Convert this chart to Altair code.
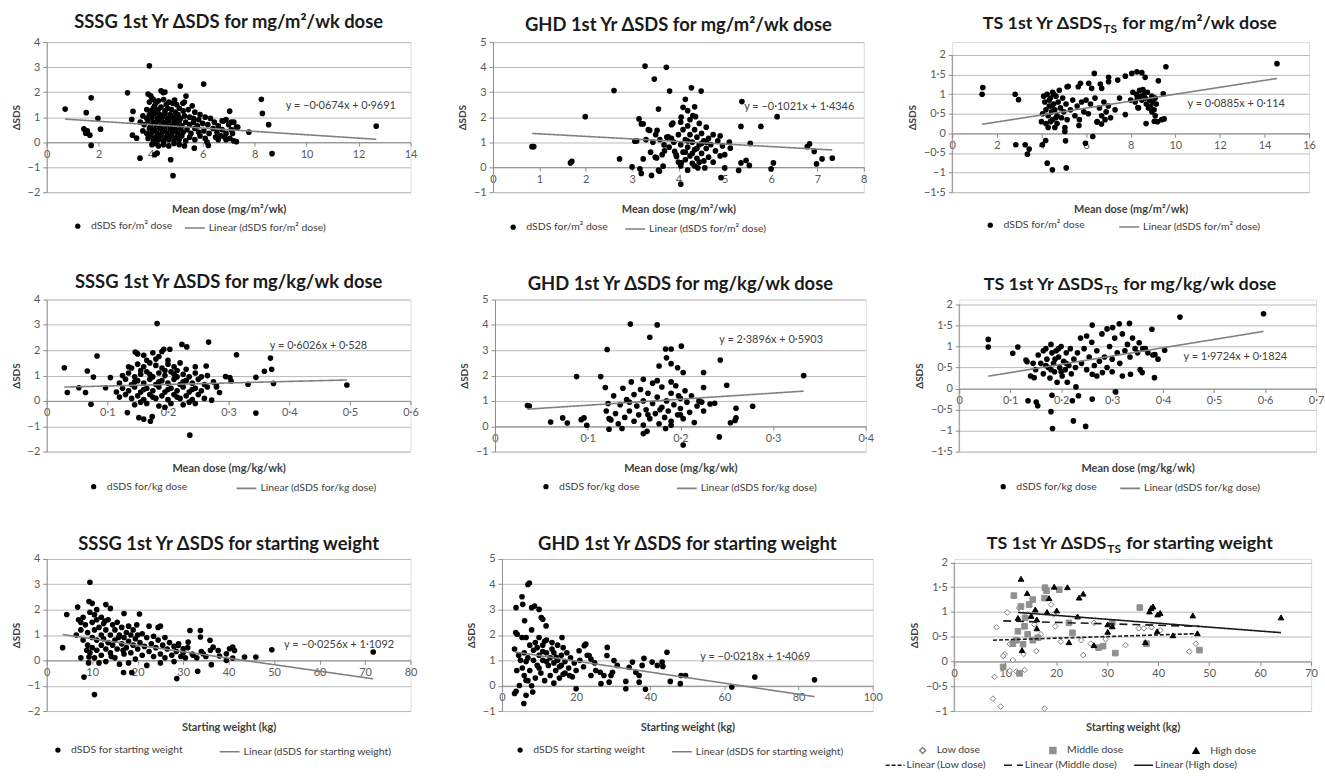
import altair as alt
import pandas as pd

# ---------------------------------------------------------------- data
# (x, y) pairs
sssg_m2 = [
    (0.71, 1.32), (1.52, 1.18), (1.71, 1.77), (1.97, 0.95), (2.07, 0.52), (1.43, 0.53), (1.5, 0.36),
    (1.66, 0.28), (1.71, -0.13), (1.56, 0.45), (3.11, 1.97), (3.32, 1.23), (3.27, 0.91), (3.3, 0.28),
    (3.46, 0.16), (3.59, -0.64), (4.25, -0.44), (4.16, -0.5), (4.77, -0.7), (4.86, -1.34), (3.95, 3.05),
    (5.14, 2.24), (5.36, 1.84), (6.04, 2.32), (7.78, 0.4), (8.26, 1.71), (8.3, 1.15), (8.54, 0.7),
    (8.67, -0.46), (12.68, 0.64), (5.68, -0.24), (6.22, -0.13), (6.17, 0.0), (7.04, 1.24), (5.24, 1.55),
    (4.92, 1.68),
    (3.9, 1.92), (4.0, 1.85), (4.4, 2.05), (4.48, 1.98), (4.55, 2.0), (4.1, 1.7),
    (3.95, 1.6), (4.05, 1.75), (4.2, 1.55), (4.3, 1.65), (4.5, 1.7), (4.7, 1.6), (4.85, 1.55), (5.0, 1.5),
    (5.3, 1.6), (4.15, 1.45), (4.6, 1.5), (5.6, 1.45),
    (3.85, 1.3), (4.0, 1.25), (4.1, 1.35), (4.25, 1.2), (4.4, 1.4), (4.55, 1.25), (4.65, 1.35), (4.8, 1.3),
    (4.95, 1.2), (5.1, 1.35), (5.25, 1.25), (5.45, 1.3), (5.7, 1.2), (5.9, 1.1), (4.3, 1.3),
    (3.7, 1.05), (3.85, 0.95), (3.95, 1.1), (4.05, 1.0), (4.15, 1.15), (4.25, 0.95), (4.35, 1.1), (4.45, 1.0),
    (4.55, 1.15), (4.65, 0.95), (4.75, 1.1), (4.85, 1.0), (4.95, 0.95), (5.05, 1.1), (5.15, 0.95), (5.3, 1.05),
    (5.5, 1.0), (5.65, 0.95), (5.85, 0.9), (6.1, 1.0), (6.3, 0.95),
    (3.6, 0.8), (3.75, 0.7), (3.9, 0.85), (4.0, 0.65), (4.1, 0.8), (4.2, 0.7), (4.3, 0.85), (4.4, 0.65),
    (4.5, 0.8), (4.6, 0.7), (4.7, 0.85), (4.8, 0.65), (4.9, 0.8), (5.0, 0.7), (5.1, 0.85), (5.2, 0.65),
    (5.35, 0.8), (5.5, 0.7), (5.65, 0.8), (5.8, 0.65), (6.0, 0.75), (6.2, 0.7), (6.45, 0.8), (6.6, 0.65),
    (6.8, 0.85), (7.0, 0.7), (7.2, 0.8),
    (3.7, 0.45), (3.85, 0.35), (3.95, 0.55), (4.05, 0.4), (4.15, 0.5), (4.25, 0.35), (4.35, 0.55), (4.45, 0.4),
    (4.55, 0.5), (4.65, 0.35), (4.75, 0.55), (4.85, 0.4), (4.95, 0.5), (5.05, 0.35), (5.15, 0.55), (5.25, 0.4),
    (5.4, 0.5), (5.55, 0.35), (5.7, 0.55), (5.85, 0.4), (6.05, 0.45), (6.25, 0.35), (6.4, 0.55), (6.55, 0.4),
    (6.75, 0.5), (6.9, 0.35), (7.1, 0.5), (7.3, 0.6),
    (3.9, 0.15), (4.0, 0.25), (4.1, 0.05), (4.2, 0.2), (4.3, 0.1), (4.4, 0.25), (4.5, 0.05), (4.6, 0.2),
    (4.7, 0.1), (4.8, 0.25), (4.9, 0.05), (5.0, 0.2), (5.1, 0.1), (5.2, 0.25), (5.35, 0.05), (5.5, 0.2),
    (5.7, 0.1), (5.9, 0.25), (6.1, 0.15), (6.5, 0.2), (6.9, 0.1), (7.05, 0.15), (7.2, 0.05), (7.3, 0.02),
    (6.7, 0.25),
    (4.05, -0.1), (4.3, -0.15), (4.5, -0.1), (4.7, -0.15), (4.9, -0.05), (5.1, -0.1), (5.3, -0.15), (4.2, -0.05),
    (6.6, 0.1), (7.15, 0.35), (6.85, 0.2), (7.35, 0.6), (6.75, 0.85), (7.1, 0.8), (6.9, 0.9),
]

ghd_m2 = [
    (0.84, 0.82), (0.88, 0.82), (1.67, 0.17), (1.7, 0.23), (1.99, 2.02), (2.61, 3.06), (2.73, 0.33),
    (3.0, 0.01), (3.06, 1.04), (3.15, 1.93), (3.2, 1.73), (3.24, 1.73), (3.17, -0.07), (3.2, -0.25),
    (3.28, 4.04), (3.24, 0.33), (3.35, 1.5), (3.38, 1.47), (3.42, -0.33), (3.48, 3.52), (3.51, 1.3),
    (3.54, 1.47), (3.57, 2.32), (3.53, 0.37), (3.57, -0.12), (3.59, -0.16), (3.69, 0.89), (3.74, 3.99),
    (3.81, 3.04), (3.67, 0.04), (3.78, 1.21), (3.85, 1.15), (3.88, 1.76), (3.92, 0.63), (3.96, 0.43),
    (4.05, -0.68), (4.06, 2.0), (4.1, 2.39), (4.15, 2.71), (4.28, 3.17), (4.2, 2.26), (4.31, 2.06),
    (4.35, 2.41), (4.37, 2.02), (4.49, 3.04), (4.06, 0.17), (4.2, -0.12), (4.42, -0.03), (4.57, -0.03),
    (5.0, -0.03), (4.92, -0.42), (5.12, 0.76), (5.37, 2.62), (5.35, 1.63), (5.35, 0.17), (5.3, -0.13),
    (5.46, 0.27), (5.53, 0.07), (5.55, 0.95), (5.78, 1.63), (6.0, -0.07), (6.05, 0.17), (6.13, 2.02),
    (6.78, 0.82), (6.83, 0.93), (6.93, 0.63), (6.98, 0.13), (7.1, 0.33), (7.32, 0.36),
    (3.75, 1.2), (3.8, 0.8), (3.85, 1.7), (3.9, 1.0), (3.95, 0.5), (4.0, 1.3), (4.0, 0.2), (4.05, 1.8),
    (4.05, 0.9), (4.1, 1.5), (4.1, 0.6), (4.15, 1.1), (4.15, 0.3), (4.2, 1.65), (4.2, 0.8), (4.25, 1.3),
    (4.25, 0.45), (4.3, 1.0), (4.3, 0.15), (4.35, 1.5), (4.35, 0.7), (4.4, 1.2), (4.4, 0.35), (4.45, 0.9),
    (4.45, 1.75), (4.5, 0.55), (4.5, 1.35), (4.55, 1.05), (4.55, 0.25), (4.6, 0.75), (4.6, 1.6), (4.65, 1.15),
    (4.65, 0.4), (4.7, 0.9), (4.75, 1.3), (4.75, 0.2), (4.8, 0.65), (4.85, 1.05), (4.9, 0.45), (4.95, 0.85),
    (5.0, 0.5), (4.3, 0.55), (4.2, 1.05), (4.4, 0.75), (4.5, 0.95), (4.15, 0.6), (4.45, 0.2), (4.6, 1.0),
    (4.35, 0.05), (4.25, 1.9), (4.05, 0.05), (3.7, 0.65), (3.6, 1.1), (3.65, 0.5), (5.1, 1.0), (4.9, 1.25),
    (3.45, 1.0), (3.3, 1.1), (3.1, 1.05), (3.4, 0.6), (3.5, 0.4),
]

ts_m2 = [
    (1.37, 1.17), (1.34, 1.0), (2.82, 1.0), (2.97, 0.86), (2.85, -0.29), (3.27, -0.29), (3.37, -0.53),
    (3.45, -0.4), (4.04, -0.29), (4.19, -0.18), (4.26, -0.76), (4.49, -0.93), (5.11, -0.88), (5.08, -0.19),
    (5.97, -0.25), (6.3, -0.08), (6.37, 1.53), (14.56, 1.78), (9.58, 1.7), (9.24, 1.34), (9.46, 1.01),
    (8.05, 1.53), (8.28, 1.57), (8.5, 1.55), (8.65, 1.43), (7.76, 1.46), (7.42, 1.36), (7.01, 1.43),
    (7.01, 1.32), (6.64, 1.26), (6.7, 1.15), (5.75, 1.28), (5.65, 1.19), (6.12, 1.28), (5.15, 1.19),
    (9.06, 0.31), (9.39, 0.35), (9.5, 0.37), (8.69, 0.25), (8.32, 0.66), (7.76, 0.48), (6.69, 0.24),
    (6.49, 0.29), (5.68, 0.2),
    (4.1, 0.95), (4.15, 0.8), (4.2, 0.6), (4.25, 1.0), (4.3, 0.45), (4.35, 0.7), (4.4, 0.9), (4.45, 0.55),
    (4.5, 1.05), (4.5, 0.35), (4.55, 0.75), (4.6, 0.6), (4.65, 0.95), (4.7, 0.45), (4.75, 0.8), (4.8, 1.1),
    (4.85, 0.65), (4.9, 0.4), (4.95, 0.9), (5.0, 0.55), (5.05, 0.15), (5.1, 0.75), (5.15, 0.35), (4.2, 0.25),
    (4.3, 0.15), (4.4, 0.3), (4.6, 0.15), (4.7, 0.25), (4.05, 0.5), (4.55, 1.0), (4.65, 0.4), (4.45, 0.7),
    (4.35, 0.85), (5.05, 0.05), (4.0, 0.3),
    (5.3, 0.6), (5.4, 0.85), (5.5, 0.45), (5.6, 0.7), (5.7, 0.35), (5.8, 0.8), (5.9, 0.55), (6.0, 0.85),
    (6.1, 0.5), (6.2, 0.75), (6.4, 0.9), (6.5, 0.3), (6.6, 0.65), (6.7, 0.45), (6.8, 0.8), (6.9, 0.55),
    (7.0, 0.7), (7.1, 0.4), (7.3, 0.6), (7.5, 0.9), (5.2, 1.2), (6.25, 1.15), (6.85, 0.35),
    (8.1, 1.05), (8.2, 0.8), (8.25, 1.0), (8.3, 0.9), (8.4, 1.1), (8.45, 0.95), (8.5, 0.85), (8.6, 1.0),
    (8.65, 0.9), (8.7, 0.75), (8.75, 1.05), (8.8, 0.65), (8.85, 0.85), (8.9, 0.7), (8.95, 0.55), (9.0, 0.8),
    (9.05, 0.6), (9.1, 0.45), (9.15, 0.75), (9.2, 0.3), (8.55, 1.12), (8.95, 0.95), (9.1, 0.9), (8.35, 0.65),
    (8.0, 0.85),
]

sssg_kg = [
    (0.029, 1.31), (0.034, 0.33), (0.053, 0.52), (0.067, 1.18), (0.064, 0.33), (0.073, -0.13), (0.077, 0.94),
    (0.083, 1.77), (0.097, 0.52), (0.105, 0.92), (0.133, -0.46), (0.135, 1.35), (0.146, 1.93), (0.149, 1.88),
    (0.182, 3.05), (0.223, 2.23), (0.231, 2.13), (0.267, 2.32), (0.263, 1.38), (0.272, 0.03), (0.313, 1.82),
    (0.332, 0.66), (0.345, 0.93), (0.345, -0.48), (0.359, 1.17), (0.369, 1.69), (0.371, 1.25), (0.374, 0.69),
    (0.495, 0.63), (0.236, -1.35), (0.16, -0.72), (0.174, -0.62), (0.171, -0.8), (0.152, -0.66), (0.285, 0.33),
    (0.28, 0.59), (0.295, 0.96), (0.302, 0.92), (0.304, 0.79), (0.203, 2.04), (0.193, 2.04),
    (0.15, 1.85), (0.16, 1.8), (0.175, 1.9), (0.185, 1.75), (0.19, 1.95), (0.18, 1.65), (0.2, 1.6), (0.165, 1.6),
    (0.14, 1.3), (0.15, 1.45), (0.16, 1.35), (0.17, 1.5), (0.18, 1.4), (0.19, 1.3), (0.2, 1.45), (0.21, 1.35),
    (0.22, 1.5), (0.23, 1.25), (0.155, 1.2), (0.195, 1.2), (0.215, 1.2), (0.245, 1.35),
    (0.125, 1.0), (0.135, 1.1), (0.145, 0.95), (0.155, 1.05), (0.165, 1.15), (0.175, 0.95), (0.185, 1.1),
    (0.195, 1.0), (0.205, 1.15), (0.215, 0.95), (0.225, 1.05), (0.235, 0.95), (0.245, 1.1), (0.255, 0.95),
    (0.265, 1.0), (0.17, 1.05), (0.21, 1.05),
    (0.12, 0.7), (0.13, 0.85), (0.14, 0.65), (0.15, 0.8), (0.16, 0.7), (0.17, 0.85), (0.18, 0.65), (0.19, 0.8),
    (0.2, 0.7), (0.21, 0.85), (0.22, 0.65), (0.23, 0.8), (0.24, 0.7), (0.25, 0.85), (0.26, 0.65), (0.275, 0.75),
    (0.145, 0.75), (0.185, 0.75), (0.225, 0.75),
    (0.115, 0.35), (0.125, 0.5), (0.135, 0.4), (0.145, 0.55), (0.155, 0.35), (0.165, 0.5), (0.175, 0.4),
    (0.185, 0.55), (0.195, 0.35), (0.205, 0.5), (0.215, 0.4), (0.225, 0.55), (0.235, 0.35), (0.245, 0.5),
    (0.255, 0.4), (0.265, 0.55), (0.16, 0.45), (0.2, 0.45), (0.24, 0.45), (0.28, 0.55),
    (0.12, 0.15), (0.13, 0.25), (0.14, 0.1), (0.15, 0.2), (0.16, 0.05), (0.17, 0.25), (0.18, 0.1), (0.19, 0.2),
    (0.2, 0.05), (0.21, 0.25), (0.22, 0.1), (0.23, 0.2), (0.24, 0.05), (0.25, 0.25), (0.26, 0.1), (0.175, 0.15),
    (0.215, 0.15),
    (0.145, -0.15), (0.165, -0.1), (0.185, -0.2), (0.205, -0.1), (0.225, -0.15), (0.245, -0.1), (0.195, -0.25),
    (0.155, -0.05), (0.235, -0.05),
]

ghd_kg = [
    (0.035, 0.82), (0.037, 0.8), (0.06, 0.17), (0.073, 0.33), (0.078, 0.13), (0.088, 1.96), (0.093, 0.26),
    (0.096, 0.33), (0.099, 0.04), (0.114, 1.96), (0.121, 3.03), (0.119, 1.53), (0.123, -0.12), (0.123, 0.3),
    (0.146, 4.03), (0.175, 4.0), (0.167, 3.51), (0.184, 3.05), (0.19, 3.05), (0.201, 3.16), (0.185, 2.7),
    (0.19, 2.47), (0.197, 2.31), (0.203, 2.12), (0.177, 2.38), (0.225, 2.12), (0.243, 2.61), (0.25, 1.62),
    (0.242, -0.42), (0.203, -0.74), (0.333, 2.0), (0.278, 0.79), (0.259, 0.23), (0.254, 0.14), (0.26, 0.33),
    (0.26, 0.71), (0.237, 0.91), (0.232, 0.88), (0.225, 1.53), (0.223, 0.95), (0.184, -0.09), (0.19, 0.04),
    (0.16, -0.29), (0.164, -0.2), (0.137, -0.09),
    (0.12, 0.6), (0.122, 0.9), (0.125, 0.25), (0.128, 1.2), (0.13, 0.5), (0.133, 0.1), (0.135, 0.85),
    (0.138, 1.5), (0.14, 0.35), (0.142, 1.05), (0.145, 0.6), (0.147, 1.75), (0.15, 0.2), (0.15, 1.25),
    (0.153, 0.8), (0.155, 0.45), (0.157, 1.45), (0.16, 1.0), (0.16, 0.05), (0.163, 0.65), (0.165, 1.3),
    (0.167, 0.3), (0.17, 0.9), (0.17, 1.7), (0.173, 0.5), (0.175, 1.15), (0.177, 0.1), (0.18, 0.75),
    (0.18, 1.55), (0.183, 0.35), (0.185, 1.0), (0.187, 0.6), (0.19, 1.3), (0.19, 0.2), (0.193, 0.85),
    (0.195, 1.6), (0.197, 0.45), (0.2, 1.1), (0.2, 0.7), (0.203, 0.3), (0.205, 1.4), (0.207, 0.95),
    (0.21, 0.55), (0.212, 1.2), (0.215, 0.15), (0.218, 0.8), (0.22, 1.0), (0.225, 0.6), (0.16, 1.85),
    (0.175, 1.8), (0.19, 1.75), (0.145, 0.95), (0.2, 0.45), (0.165, 0.45), (0.178, 0.65), (0.198, 1.2),
]

ts_kg = [
    (0.057, 1.17), (0.057, 0.99), (0.105, 0.84), (0.115, 0.99), (0.131, 0.68), (0.133, 0.64), (0.135, -0.29),
    (0.151, -0.32), (0.154, -0.41), (0.147, 0.26), (0.182, -0.16), (0.18, -0.55), (0.183, -0.95),
    (0.224, -0.77), (0.248, -0.9), (0.222, -0.29), (0.234, -0.17), (0.229, 0.04), (0.261, -0.25),
    (0.307, -0.08), (0.261, 1.51), (0.301, 1.45), (0.29, 1.42), (0.314, 1.54), (0.334, 1.55), (0.378, 1.41),
    (0.433, 1.7), (0.597, 1.78), (0.384, 0.81), (0.39, 0.7), (0.403, 0.91), (0.383, 0.26), (0.359, 0.38),
    (0.355, 0.45), (0.336, 0.34), (0.32, 0.3), (0.281, 0.38), (0.261, 0.34), (0.353, 1.09), (0.365, 0.95),
    (0.15, 0.45), (0.155, 0.8), (0.16, 0.6), (0.165, 0.35), (0.17, 0.95), (0.172, 0.7), (0.175, 0.5),
    (0.178, 0.25), (0.18, 1.05), (0.182, 0.85), (0.185, 0.6), (0.187, 0.4), (0.19, 0.9), (0.192, 0.15),
    (0.195, 0.75), (0.197, 0.5), (0.2, 1.0), (0.202, 0.3), (0.205, 0.65), (0.208, 0.45), (0.21, 0.85),
    (0.212, 0.15), (0.215, 0.55), (0.218, 0.95), (0.22, 0.35), (0.225, 0.7), (0.228, 0.5), (0.17, 0.55),
    (0.188, 0.7), (0.2, 0.4), (0.18, 0.45), (0.195, 0.95), (0.165, 0.9), (0.21, 0.6), (0.14, 0.3), (0.145, 0.6),
    (0.232, 0.85), (0.238, 1.2), (0.24, 0.6), (0.245, 0.95), (0.25, 0.45), (0.255, 0.75), (0.26, 1.1),
    (0.265, 0.55), (0.27, 0.9), (0.275, 0.65), (0.28, 1.3), (0.285, 0.75), (0.29, 0.5), (0.295, 1.0),
    (0.3, 0.7), (0.305, 1.2), (0.31, 0.85), (0.315, 0.6), (0.32, 1.3), (0.325, 0.9), (0.33, 1.05),
    (0.335, 0.75), (0.34, 1.2), (0.345, 0.95), (0.35, 0.85), (0.36, 0.95), (0.37, 0.85),
    (0.38, 0.8), (0.25, 1.25), (0.27, 0.3), (0.3, 0.4),
]

sssg_wt = [
    (3.5, 0.5), (4.4, 1.81), (6.8, 2.1), (7.5, 1.5), (9.3, 0.13), (8.2, -0.66), (9.5, 3.08), (9.3, 2.32),
    (10.5, -1.35), (16.9, -0.48), (18.7, -0.48), (20.4, 1.83), (28.6, -0.72), (33.2, -0.43), (31.5, 1.18),
    (33.8, 1.18), (33.8, 0.92), (35.9, 0.79), (36.6, 0.52), (36.2, -0.17), (37.7, 0.39), (38.0, 0.17),
    (39.5, 0.26), (40.2, 0.46), (40.9, 0.52), (41.3, 0.39), (39.5, 0.0), (40.9, 0.09), (43.5, 0.13),
    (46.0, 0.13), (49.5, 0.42), (71.8, 0.33), (30.0, 0.46), (32.2, 0.2), (34.4, 0.26), (31.1, 0.72),
    (28.9, 0.59),
    (6.5, 1.0), (7.0, 1.6), (7.5, 1.2), (8.0, 0.8), (8.0, 1.7), (8.5, 1.4), (9.0, 0.6), (9.0, 1.1), (9.5, 1.9),
    (9.5, 0.3), (10.0, 2.25), (10.0, 1.5), (10.0, 0.9), (10.0, 0.5), (10.5, 1.8), (10.5, 1.2), (10.5, 0.1),
    (11.0, 2.0), (11.0, 1.6), (11.0, 0.8), (11.0, 0.4), (11.5, 1.3), (11.5, -0.1), (12.0, 1.7), (12.0, 1.0),
    (12.0, 0.6), (12.0, 0.2), (7.5, 0.1), (9.2, -0.1), (8.8, 0.4),
    (12.5, 1.45), (12.5, 0.85), (13.0, 2.2), (13.0, 1.2), (13.0, 0.45), (13.0, -0.05), (13.5, 1.6), (13.5, 0.7),
    (14.0, 2.05), (14.0, 1.0), (14.0, 0.3), (14.5, 1.4), (14.5, 0.6), (15.0, 1.2), (15.0, 0.8), (15.0, 0.1),
    (15.5, 1.5), (15.5, 0.45), (16.0, 1.0), (16.0, -0.15), (16.5, 1.3), (16.5, 0.65), (17.0, 1.85), (17.0, 0.9),
    (17.0, 0.25), (17.5, 1.1), (17.5, 0.5), (18.0, 1.35), (18.0, 0.75), (18.0, -0.1), (12.8, 1.55),
    (14.2, 0.15), (15.8, 0.9), (16.8, 0.4),
    (18.5, 1.0), (18.5, 0.3), (19.0, 1.2), (19.0, 0.6), (19.5, 0.85), (19.5, 0.05), (20.0, 1.0), (20.0, 0.45),
    (20.5, 0.7), (21.0, 1.05), (21.0, 0.2), (21.5, 0.55), (22.0, 0.9), (22.0, -0.2), (22.5, 1.35), (22.5, 0.35),
    (23.0, 0.65), (23.5, 0.95), (23.5, 0.15), (24.0, 0.5), (24.5, 1.3), (24.5, 0.8), (25.0, 0.25),
    (25.0, 1.35), (25.0, -0.1), (19.8, 1.4),
    (25.5, 0.6), (26.0, 0.9), (26.0, 0.1), (26.5, 0.45), (27.0, 0.7), (27.5, 0.2), (28.0, 0.55), (28.0, -0.05),
    (28.5, 0.35), (29.0, 0.65), (29.5, 0.15), (30.0, 0.3), (30.5, 0.1), (31.0, 0.5), (32.0, 0.25), (33.0, 0.1),
    (34.0, 0.35), (35.0, 0.15), (36.0, 0.4),
]

ghd_wt = [
    (3.4, -0.31), (3.8, -0.22), (3.4, 1.45), (3.8, 3.08), (3.7, 2.1), (4.1, 2.03), (5.4, 3.51), (5.6, 3.21),
    (6.1, 2.56), (5.4, 1.9), (5.9, -0.7), (6.5, -0.38), (7.0, 3.99), (7.4, 4.05), (8.0, 3.08), (8.8, 3.14),
    (10.0, 3.01), (10.6, 2.69), (11.0, 2.62), (8.3, -0.25), (4.7, 0.01), (6.5, 0.21), (11.9, 2.36),
    (14.6, 1.12), (16.2, 1.9), (18.2, 0.4), (20.0, -0.12), (20.8, 1.38), (22.2, 1.58), (22.6, 1.64),
    (23.5, 1.19), (24.0, 0.4), (25.3, 0.6), (26.5, 0.53), (26.7, 0.08), (27.5, 0.4), (28.3, 1.19),
    (28.4, 1.51), (28.9, 0.14), (29.4, 0.4), (29.8, 0.53), (30.2, 0.99), (31.1, 0.8), (33.4, 0.17),
    (33.4, -0.12), (34.3, 0.73), (35.2, 0.93), (36.1, 0.53), (37.0, 0.4), (37.0, 0.14), (37.8, 0.8),
    (38.3, 1.08), (38.7, -0.14), (40.5, 0.93), (41.9, 0.8), (43.2, 0.93), (43.4, 0.76), (44.5, 1.32),
    (45.4, 0.17), (48.1, 0.08), (48.3, 0.4), (49.5, 0.4), (62.0, -0.05), (68.2, 0.34), (84.3, 0.23),
    (5.0, 1.0), (5.5, 0.7), (6.0, 1.3), (6.0, 0.4), (6.5, 1.9), (7.0, 1.1), (7.0, 0.2), (7.5, 1.6), (7.5, 0.6),
    (8.0, 0.0), (8.0, 2.2), (8.5, 1.0), (8.5, 1.4), (9.0, 0.3), (9.0, 1.7), (9.5, 0.8), (10.0, 1.2), (10.0, 1.9),
    (10.5, 0.5), (11.0, 1.6), (11.0, 1.0), (11.5, 0.2), (12.0, 1.3), (12.0, 1.8), (12.5, 0.8), (13.0, 1.1),
    (13.0, 0.4), (13.5, 1.7), (14.0, 0.9), (14.0, 1.3), (14.5, 0.6), (15.0, 1.0), (15.0, 1.6), (15.5, 0.3),
    (16.0, 0.8), (16.0, 1.2), (16.5, 1.5), (17.0, 0.5), (17.0, 0.95), (17.5, 1.3), (18.0, 0.7), (18.5, 1.1),
    (19.0, 0.35), (19.5, 0.9), (20.0, 0.6), (21.0, 1.0), (22.0, 0.75), (23.0, 1.2), (24.0, 1.05), (25.0, 0.9),
    (12.0, 0.95), (13.5, 1.45), (11.0, 1.35), (9.5, 1.5), (15.5, 0.75), (16.5, 0.45), (10.0, 0.7),
    (11.5, 1.75), (14.0, 0.1), (6.5, 0.95), (4.5, 1.2), (4.0, 0.6),
]

ts_wt_low = [
    (8.3, 0.69), (10.4, 0.99), (9.9, 0.15), (9.6, 0.11), (11.5, 0.03), (10.9, -0.19), (12.2, -0.2),
    (13.8, -0.17), (7.6, -0.75), (9.1, -0.91), (17.7, -0.95), (7.9, -0.31), (16.1, 0.21), (19.0, 1.15),
    (20.9, 0.4), (24.9, 0.43), (25.3, 0.13), (26.8, 0.36), (29.7, 0.45), (33.6, 0.33), (36.2, 0.67),
    (38.7, 0.69), (46.1, 0.2), (47.4, 0.36), (27.4, 0.78), (19.8, 0.71), (19.5, 0.95), (12.7, 1.08),
    (14.4, 0.95), (15.7, 0.75), (17.0, 0.55), (10.9, 0.35), (13.6, 0.15), (40.4, 0.63), (37.2, 0.67),
]
ts_wt_mid = [
    (11.7, 1.33), (17.8, 1.49), (18.1, 1.43), (20.6, 1.45), (15.4, 1.25), (14.7, 1.15), (17.7, 1.28),
    (13.8, 0.71), (12.5, 0.61), (12.2, 0.43), (11.5, 0.36), (9.6, -0.11), (12.8, -0.24), (13.1, 1.11),
    (16.4, 0.48), (15.4, 0.43), (23.2, 0.58), (22.5, 0.78), (31.6, 0.17), (29.2, 0.31), (28.3, 0.28),
    (36.4, 1.09), (37.7, 0.36), (48.1, 0.23), (31.0, 0.78), (13.9, 0.88), (14.4, 0.55), (13.5, 0.35),
]
ts_wt_high = [
    (13.1, 1.67), (14.3, 1.38), (19.6, 1.51), (22.2, 1.5), (24.5, 1.29), (25.3, 1.37), (18.6, 1.28),
    (20.1, 1.03), (13.3, 0.23), (22.5, 0.39), (12.5, 0.88), (15.1, 0.92), (15.9, 1.05), (16.2, 0.85),
    (18.2, 1.0), (24.2, 0.91), (30.1, 0.75), (31.0, 0.71), (30.1, 0.6), (37.5, 0.39), (38.6, 1.08),
    (39.0, 1.11), (38.3, 1.01), (39.9, 0.95), (40.4, 0.98), (42.9, 0.53), (46.8, 0.93), (47.7, 0.57),
    (64.1, 0.89), (39.8, 0.61), (27.4, 0.33), (16.2, 0.67),
]

# linear trend (slope, intercept)
coef_sssg_m2 = (-0.0674, 0.9691)
coef_ghd_m2 = (-0.1021, 1.4346)
coef_ts_m2 = (0.0885, 0.114)
coef_sssg_kg = (0.6026, 0.528)
coef_ghd_kg = (2.3896, 0.5903)
coef_ts_kg = (1.9724, 0.1824)
coef_sssg_wt = (-0.0256, 1.1092)
coef_ghd_wt = (-0.0218, 1.4069)
coef_ts_wt = {"Low dose": (0.0033, 0.405), "Middle dose": (-0.0029, 0.848), "High dose": (-0.0079, 1.089)}

# tick values
ticks_y_6 = [-2, -1, 0, 1, 2, 3, 4]
ticks_y_5 = [-1, 0, 1, 2, 3, 4, 5]
ticks_y_ts = [-1.5, -1, -0.5, 0, 0.5, 1, 1.5, 2]
ticks_y_ts9 = [-1, -0.5, 0, 0.5, 1, 1.5, 2]

# ---------------------------------------------------------------- style
FONT = "Lato"
GRID = "#b9b9b9"
AXC = "#8c8c8c"
LBLC = "#595959"
DARK = "#404040"
TFS = 18.5
TSFS = 18
LFS = 10.5
DOT = 32
LBL = "replace(replace(format(datum.value, '~g'), '.', '\u00b7'), '-', '\u2212')"


def eq_text(c):
    a, b = c
    sa = ("\u2212" if a < 0 else "") + str(abs(a)).replace(".", "\u00b7")
    sb = str(b).replace(".", "\u00b7")
    return f"y = {sa}x + {sb}"


def axes(x_dom, x_ticks, y_dom, y_ticks, h, xtitle, top_pad):
    ymax = y_dom[1] + top_pad * (y_dom[1] - y_dom[0]) / (h - top_pad)
    zero = h * (0 - y_dom[0]) / (ymax - y_dom[0])
    xax = alt.Axis(values=x_ticks, tickCount=50, labelExpr=LBL, grid=False, offset=-zero, title=xtitle,
                   titleY=zero + 17, titleBaseline="middle", titleFont=FONT, titleFontSize=11,
                   titleFontWeight="bold", titleColor=DARK, labelFont=FONT, labelFontSize=11,
                   labelColor=LBLC, labelPadding=2, domainColor=AXC, tickColor=AXC, tickSize=4,
                   labelOverlap=False, labelFlush=False)
    yax = alt.Axis(values=y_ticks, tickCount=50, labelExpr=LBL, grid=True, gridColor=GRID, gridWidth=1,
                   title="\u0394SDS", titleFont=FONT, titleFontSize=10, titleFontWeight="bold",
                   titleColor=DARK, labelFont=FONT, labelFontSize=11, labelColor=LBLC,
                   labelPadding=3, domain=(top_pad == 0), domainColor=AXC, tickColor=AXC, tickSize=4,
                   titlePadding=6, labelOverlap=False)
    xs = alt.Scale(domain=x_dom, nice=False, zero=False)
    ys = alt.Scale(domain=[y_dom[0], ymax], nice=False, zero=False)
    return xax, yax, xs, ys


def yline(x_dom, y_dom):
    d = pd.DataFrame({"x": [x_dom[0]], "y": [y_dom[0]], "y2": [y_dom[1]]})
    return alt.Chart(d).mark_rule(color=AXC, strokeWidth=1).encode(x="x:Q", y="y:Q", y2="y2:Q")


def leg(x, y, colpad=30, **kw):
    return alt.Legend(orient="none", legendX=x, legendY=y, direction="horizontal", title=None,
                      labelFont=FONT, labelFontSize=LFS, labelColor=DARK, columnPadding=colpad, **kw)


def ts_title(parts, base_y, split):
    left, right = parts
    common = dict(font=FONT, fontSize=TSFS, fontWeight="bold", color="#1a1a1a", baseline="alphabetic")
    a = alt.Chart(pd.DataFrame({"t": [left]})).mark_text(align="right", **common).encode(
        x=alt.value(split), y=alt.value(base_y), text="t:N")
    b = alt.Chart(pd.DataFrame({"t": ["TS"]})).mark_text(
        align="left", font=FONT, fontSize=12, fontWeight="bold", color="#1a1a1a",
        baseline="alphabetic").encode(x=alt.value(split + 1), y=alt.value(base_y + 4), text="t:N")
    c = alt.Chart(pd.DataFrame({"t": [right]})).mark_text(align="left", **common).encode(
        x=alt.value(split + 20), y=alt.value(base_y), text="t:N")
    return [a, b, c]


def panel(pts, coefs, x_dom, x_ticks, y_dom, y_ticks, w, h, top_pad, xtitle, pt_label, ln_label,
          eq_pos, title, title_off, leg_c, leg_px, leg_lx):
    xax, yax, xs, ys = axes(x_dom, x_ticks, y_dom, y_ticks, h, xtitle, top_pad)
    df = pd.DataFrame(pts, columns=["x", "y"])
    df["s"] = pt_label
    xvals = [p[0] for p in pts]
    lx = [min(xvals), max(xvals)]
    ldf = pd.DataFrame({"x": lx, "y": [coefs[0] * v + coefs[1] for v in lx], "s": ln_label})
    edf = pd.DataFrame({"x": [eq_pos[0]], "y": [eq_pos[1]], "t": [eq_text(coefs)]})
    p = alt.Chart(df).mark_circle(size=DOT, opacity=1).encode(
        x=alt.X("x:Q", scale=xs, axis=xax),
        y=alt.Y("y:Q", scale=ys, axis=yax),
        color=alt.Color("s:N", scale=alt.Scale(domain=[pt_label], range=["black"]),
                        legend=leg(leg_px, leg_c - 6, symbolType="circle", symbolSize=28,
                                   labelOffset=8)),
    )
    ln = alt.Chart(ldf).mark_line(color="#808080", strokeWidth=1.6).encode(
        x="x:Q", y="y:Q",
        strokeDash=alt.StrokeDash("s:N", scale=alt.Scale(domain=[ln_label], range=[[1, 0]]),
                                  legend=leg(leg_lx, leg_c - 10, symbolType="stroke", symbolSize=400,
                                             symbolStrokeColor="#808080", symbolStrokeWidth=1.6,
                                             labelOffset=3)),
    )
    eq = alt.Chart(edf).mark_text(align="left", baseline="middle", font=FONT, fontSize=11,
                                  color=DARK).encode(x="x:Q", y="y:Q", text="t:N")
    layers = [p, ln, eq]
    if top_pad:
        layers.append(yline(x_dom, y_dom))
    props = dict(width=w, height=h)
    if isinstance(title, tuple):
        layers += ts_title(*title)
    else:
        props["title"] = alt.TitleParams(title, font=FONT, fontSize=TFS, fontWeight="bold",
                                         color="#1a1a1a", anchor="middle", frame="group",
                                         offset=title_off)
    return alt.layer(*layers).properties(**props).resolve_legend(color="independent",
                                                                strokeDash="independent")


m2 = "Mean dose (mg/m\u00b2/wk)"
kg = "Mean dose (mg/kg/wk)"
wt = "Starting weight (kg)"
lm2 = ("dSDS for/m\u00b2 dose", "Linear (dSDS for/m\u00b2 dose)")
lkg = ("dSDS for/kg dose", "Linear (dSDS for/kg dose)")
lwt = ("dSDS for starting weight", "Linear (dSDS for starting weight)")

p1 = panel(sssg_m2, coef_sssg_m2, [0, 14], list(range(0, 15, 2)), [-2, 4], ticks_y_6, 366, 151, 0, m2,
           *lm2, (9.2, 1.44), "SSSG 1st Yr \u0394SDS for mg/m\u00b2/wk dose", 5, 186, 26, 138)
p2 = panel(ghd_m2, coef_ghd_m2, [0, 8], list(range(0, 9)), [-1, 5], ticks_y_5, 373, 151, 0, m2,
           *lm2, (5.42, 2.41), "GHD 1st Yr \u0394SDS for mg/m\u00b2/wk dose", 1.5, 187, 15, 132)
p3 = panel(ts_m2, coef_ts_m2, [0, 16], list(range(0, 17, 2)), [-1.5, 2], ticks_y_ts, 359, 151, 13, m2,
           *lm2, (10.55, 0.75), (("TS 1st Yr \u0394SDS", "for mg/m\u00b2/wk dose"), -13, 151), 0,
           185, 33, 167)
p4 = panel(sssg_kg, coef_sssg_kg, [0, 0.6], [0, 0.1, 0.2, 0.3, 0.4, 0.5, 0.6], [-2, 4], ticks_y_6, 366,
           153, 0, kg, *lkg, (0.368, 2.16), "SSSG 1st Yr \u0394SDS for mg/kg/wk dose", 2, 189, 42, 190)
p5 = panel(ghd_kg, coef_ghd_kg, [0, 0.4], [0, 0.1, 0.2, 0.3, 0.4], [-1, 5], ticks_y_5, 373, 153, 0,
           kg, *lkg, (0.242, 3.39), "GHD 1st Yr \u0394SDS for mg/kg/wk dose", 0, 189, 46, 182)
p6 = panel(ts_kg, coef_ts_kg, [0, 0.7], [0, 0.1, 0.2, 0.3, 0.4, 0.5, 0.6, 0.7], [-1.5, 2], ticks_y_ts,
           359, 153, 5, kg, *lkg, (0.44, 0.76),
           (("TS 1st Yr \u0394SDS", "for mg/kg/wk dose"), -10, 145), 0, 189, 39, 161)
p7 = panel(sssg_wt, coef_sssg_wt, [0, 80], list(range(0, 81, 10)), [-2, 4], ticks_y_6, 366, 153, 0,
           wt, *lwt, (52.2, 0.59), "SSSG 1st Yr \u0394SDS for starting weight", 0, 193, 6, 173)
p8 = panel(ghd_wt, coef_ghd_wt, [0, 100], list(range(0, 101, 20)), [-1, 5], ticks_y_5, 373, 153, 0,
           wt, *lwt, (53.5, 1.15), "GHD 1st Yr \u0394SDS for starting weight", 0, 193, 13, 170)

# ---- panel 9 (three dose groups)
groups = ["Low dose", "Middle dose", "High dose"]
rows = []
for g, lst in zip(groups, [ts_wt_low, ts_wt_mid, ts_wt_high]):
    rows += [{"x": a, "y": b, "g": g} for a, b in lst]
df9 = pd.DataFrame(rows)
lrows = []
for g, lst in zip(groups, [ts_wt_low, ts_wt_mid, ts_wt_high]):
    xv = [p[0] for p in lst]
    for v in (min(xv), max(xv)):
        lrows.append({"x": v, "y": coef_ts_wt[g][0] * v + coef_ts_wt[g][1], "lg": f"Linear ({g})"})
ldf9 = pd.DataFrame(lrows)
H9, PAD9 = 153, 3.5
xax9, yax9, xs9, ys9 = axes([0, 70], list(range(0, 71, 10)), [-1, 2], ticks_y_ts9, H9, wt, PAD9)
leg9 = alt.Legend(orient="none", legendX=-37, legendY=187, direction="horizontal", title=None,
                  labelFont=FONT, labelFontSize=LFS, labelColor=DARK, columnPadding=66, labelOffset=9,
                  symbolSize=36)
gscale = dict(domain=groups)
pts9 = alt.Chart(df9).mark_point(filled=True, size=32, opacity=1, strokeWidth=1).encode(
    x=alt.X("x:Q", scale=xs9, axis=xax9),
    y=alt.Y("y:Q", scale=ys9, axis=yax9),
    shape=alt.Shape("g:N", scale=alt.Scale(range=["diamond", "square", "triangle-up"], **gscale), legend=leg9),
    fill=alt.Fill("g:N", scale=alt.Scale(range=["white", "#8f8f8f", "black"], **gscale), legend=leg9),
    stroke=alt.Stroke("g:N", scale=alt.Scale(range=["#808080", "#8f8f8f", "black"], **gscale), legend=leg9),
)
ldom = [f"Linear ({g})" for g in groups]
lines9 = alt.Chart(ldf9).mark_line(color="#1a1a1a", strokeWidth=1.6).encode(
    x="x:Q", y="y:Q",
    strokeDash=alt.StrokeDash("lg:N", scale=alt.Scale(domain=ldom, range=[[4, 2], [8, 5], [1, 0]]),
                              legend=alt.Legend(orient="none", legendX=-70, legendY=197,
                                                direction="horizontal", title=None, labelFont=FONT,
                                                labelFontSize=LFS, labelColor=DARK, columnPadding=14,
                                                labelOffset=1, symbolType="stroke", symbolSize=361,
                                                symbolStrokeColor="#1a1a1a", symbolStrokeWidth=1.5)),
)
p9 = alt.layer(pts9, lines9, yline([0, 70], [-1, 2]),
               *ts_title(("TS 1st Yr \u0394SDS", "for  starting weight"), -10, 153)
               ).properties(width=359, height=H9)

indep = dict(x="independent", y="independent", color="independent", strokeDash="independent",
             shape="independent", fill="independent", stroke="independent")
lindep = dict(color="independent", strokeDash="independent", shape="independent",
              fill="independent", stroke="independent")


def row(*ps, spacing=39):
    return alt.hconcat(*ps, spacing=spacing).resolve_scale(**indep).resolve_legend(**lindep)


def col(*ps, spacing):
    return alt.vconcat(*ps, spacing=spacing).resolve_scale(**indep).resolve_legend(**lindep)


row3 = row(row(p7, p8, spacing=48), p9, spacing=0)
chart = col(col(row(p1, p2, p3), row(p4, p5, p6), spacing=37), row3, spacing=39).properties(
    padding={"left": 10, "top": 10, "right": 0, "bottom": 0}
).configure_view(stroke=None).configure(font=FONT)

chart.save("out.html", embed_options={"renderer": "svg", "actions": False})
